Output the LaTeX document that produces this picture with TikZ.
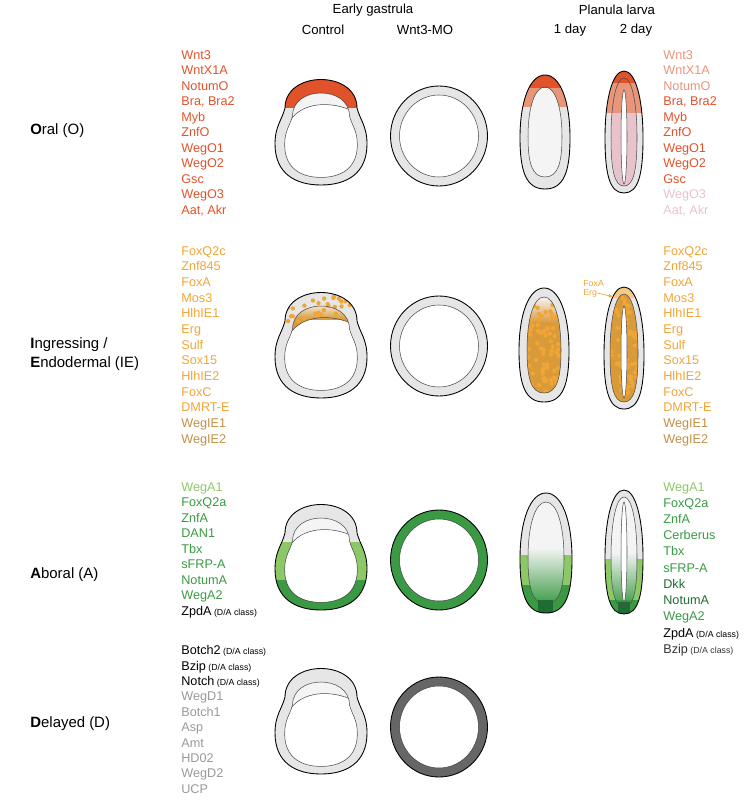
\documentclass[tikz,border=0pt]{standalone}
\usepackage{fontspec}
\setmainfont{Liberation Sans}
\usetikzlibrary{arrows.meta}
\definecolor{oraO}{HTML}{E0522A}
\definecolor{salO}{HTML}{E8957A}
\definecolor{pinkO}{HTML}{E8C3CB}
\definecolor{oraIE}{HTML}{F0A535}
\definecolor{fillIE}{HTML}{D99A3A}
\definecolor{brIE}{HTML}{C09048}
\definecolor{grL}{HTML}{8CC866}
\definecolor{grM}{HTML}{3A9A44}
\definecolor{grD}{HTML}{1E6E34}
\definecolor{ring}{HTML}{E6E6E6}
\definecolor{arch}{HTML}{F4F4F4}
\definecolor{grayD}{HTML}{999999}
\tikzset{
  egg/.style 2 args={insert path={(0,-#2) .. controls ({0.6*#1},-#2) and (#1,{-0.55*#2}) .. (#1,{0.1*#2}) .. controls (#1,{0.7*#2}) and ({0.75*#1},#2) .. (0,#2) .. controls ({-0.75*#1},#2) and (-#1,{0.7*#2}) .. (-#1,{0.1*#2}) .. controls (-#1,{-0.55*#2}) and ({-0.6*#1},-#2) .. (0,-#2) -- cycle}},
  gast/.style n args={3}{insert path={({-36*#1},{-24*#2+#3}) .. controls ({-36*#1},{-62*#2+#3}) and ({36*#1},{-62*#2+#3}) .. ({36*#1},{-24*#2+#3}) .. controls ({39*#1},{-12*#2+#3}) and ({46*#1},{-6*#2+#3}) .. ({46*#1},{12*#2+#3}) .. controls ({46*#1},{42*#2+#3}) and ({25*#1},{53*#2+#3}) .. (0,{53*#2+#3}) .. controls ({-25*#1},{53*#2+#3}) and ({-46*#1},{42*#2+#3}) .. ({-46*#1},{12*#2+#3}) .. controls ({-46*#1},{-6*#2+#3}) and ({-39*#1},{-12*#2+#3}) .. ({-36*#1},{-24*#2+#3}) -- cycle}},
  gene/.style={anchor=west,inner sep=0pt,text height=1.45ex,text depth=0.35ex,font=\fontsize{7.2}{8}\selectfont},
  head/.style={inner sep=0pt,font=\fontsize{7.5}{9}\selectfont},
  rowlab/.style={anchor=west,inner sep=0pt,font=\fontsize{8.5}{10}\selectfont},
  outl/.style={draw=black,line width=0.5pt},
  thin/.style={draw=black!70,line width=0.3pt}
}
% small class tag
\newcommand{\cls}{{\fontsize{5}{6}\selectfont\ (D/A class)}}
% gastrula pieces
\newcommand{\gastbase}{%
  \fill[ring,even odd rule] [gast={1}{1}{0}] [gast={0.79}{0.8}{3}];
  \fill[white] [gast={0.79}{0.8}{3}];
  \begin{scope}
    \clip [gast={0.79}{0.8}{3}];
    \fill[arch] (-50,-10) -- (-32,-10) .. controls (-20,-30) and (10,-32) .. (34,-20) -- (50,-20) -- (50,-70) -- (-50,-70) -- cycle;
  \end{scope}}
\newcommand{\gastlines}{%
  \draw[outl] [gast={1}{1}{0}];
  \draw[thin] [gast={0.79}{0.8}{3}];
  \begin{scope}
    \clip [gast={0.79}{0.8}{3}];
    \draw[thin] (-32,-10) .. controls (-20,-30) and (10,-32) .. (34,-20);
  \end{scope}}
\begin{document}
\begin{tikzpicture}[x=0.02cm,y=-0.02cm]
\useasboundingbox (0,0) rectangle (754,800);

% headers
\node[head] (hEG) at (373,10) {Early gastrula};
\node[head] (hCt) at (323,30) {Control};
\node[head] (hMO) at (425,30) {Wnt3-MO};
\node[head] (hPL) at (617,10) {Planula larva};
\node[head] (h1d) at (570,30) {1 day};
\node[head] (h2d) at (636,30) {2 day};

% row labels
\node[rowlab] (rO) at (30,131) {\textbf{O}ral (O)};
\node[rowlab] (rI1) at (30,345) {\textbf{I}ngressing /};
\node[rowlab] (rI2) at (30,364) {\textbf{E}ndodermal (IE)};
\node[rowlab] (rA) at (30,575) {\textbf{A}boral (A)};
\node[rowlab] (rD) at (30,724) {\textbf{D}elayed (D)};

% gene lists, oral
\foreach \g [count=\i from 0] in {Wnt3,WntX1A,NotumO,{Bra, Bra2},Myb,ZnfO,WegO1,WegO2,Gsc,WegO3,{Aat, Akr}}
  \node[gene,text=oraO] (gOl\i) at (181,54+15.5*\i) {\g};
\foreach \g/\c [count=\i from 0] in {Wnt3/salO,WntX1A/salO,NotumO/salO,{Bra, Bra2}/oraO,Myb/oraO,ZnfO/oraO,WegO1/oraO,WegO2/oraO,Gsc/oraO,WegO3/pinkO,{Aat, Akr}/pinkO}
  \node[gene,text=\c] (gOr\i) at (663,54+15.5*\i) {\g};
% ingressing / endodermal
\foreach \g/\c [count=\i from 0] in {FoxQ2c/oraIE,Znf845/oraIE,FoxA/oraIE,Mos3/oraIE,HlhIE1/oraIE,Erg/oraIE,Sulf/oraIE,Sox15/oraIE,HlhIE2/oraIE,FoxC/oraIE,DMRT-E/oraIE,WegIE1/brIE,WegIE2/brIE}{
  \node[gene,text=\c] (gIl\i) at (181,250+15.67*\i) {\g};
  \node[gene,text=\c] (gIr\i) at (663,250+15.67*\i) {\g};}
% aboral
\foreach \g/\c [count=\i from 0] in {WegA1/grL,FoxQ2a/grM,ZnfA/grM,DAN1/grM,Tbx/grM,sFRP-A/grM,NotumA/grM,WegA2/grM}
  \node[gene,text=\c] (gAl\i) at (181,486+15.5*\i) {\g};
\node[gene] (gAl8) at (181,610) {ZpdA\cls};
\foreach \g/\c [count=\i from 0] in {WegA1/grL,FoxQ2a/grM,ZnfA/grM,Cerberus/grM,Tbx/grM,sFRP-A/grM,Dkk/grD,NotumA/grD,WegA2/grM}
  \node[gene,text=\c] (gAr\i) at (663,486+16.2*\i) {\g};
\node[gene] (gAr9) at (663,632) {ZpdA\cls};
\node[gene,text=black!80] (gAr10) at (663,648.5) {Bzip\cls};
% delayed
\node[gene] (gD0) at (181,649.5) {Botch2\cls};
\node[gene] (gD1) at (181,664.9) {Bzip\cls};
\node[gene] (gD2) at (181,680.3) {Notch\cls};
\foreach \g [count=\i from 3] in {WegD1,Botch1,Asp,Amt,HD02,WegD2,UCP}
  \node[gene,text=grayD] (gD\i) at (181,649.5+15.4*\i) {\g};

% ---- control gastrulae
\begin{scope}[shift={(321,132)}]
  \gastbase
  \begin{scope}
    \clip (-60,-70) rectangle (60,-24);
    \fill[oraO,even odd rule] [gast={1}{1}{0}] [gast={0.79}{0.8}{3}];
  \end{scope}
  \gastlines
\end{scope}
\begin{scope}[shift={(321,345)}]
  \gastbase
  \begin{scope}
    \clip [gast={0.79}{0.8}{3}];
    \fill[fillIE] (-50,-10) -- (-32,-10) .. controls (-20,-30) and (10,-32) .. (34,-20) -- (50,-20) -- (50,-70) -- (-50,-70) -- cycle;
    \shade[top color=arch,bottom color=fillIE] (-50,-42) rectangle (50,-26);
  \end{scope}
  \begin{scope}
    \clip (-36,-24) .. controls (-36,-62) and (36,-62) .. (36,-24) -- (34,-20) .. controls (10,-32) and (-20,-30) .. (-32,-10) -- cycle;
    \pgfmathsetseed{7}
    \foreach \i in {1,...,45}
      \fill[oraIE] ({35*rand},{-30+20*rand}) circle (2.2);
  \end{scope}
  \gastlines
\end{scope}
\begin{scope}[shift={(321,557)}]
  \gastbase
  \begin{scope}
    \clip (-60,-15) rectangle (60,70);
    \fill[grL,even odd rule] [gast={1}{1}{0}] [gast={0.79}{0.8}{3}];
    \clip (-60,23) rectangle (60,70);
    \fill[grM,even odd rule] [gast={1}{1}{0}] [gast={0.79}{0.8}{3}];
  \end{scope}
  \gastlines
\end{scope}
\begin{scope}[shift={(321,721)}]
  \gastbase
  \gastlines
\end{scope}

% ---- Wnt3-MO
\foreach \cy/\cc in {136/ring,346/ring,560/grM,727/black!60}{
  \begin{scope}[shift={(439,\cy)}]
    \fill[\cc,even odd rule] (0,0) ellipse [x radius=48.5,y radius=50] (0,0) ellipse [x radius=39.5,y radius=41];
    \draw[outl] (0,0) ellipse [x radius=48.5,y radius=50];
    \draw[thin] (0,0) ellipse [x radius=39.5,y radius=41];
  \end{scope}}

% ---- 1 day, oral
\begin{scope}[shift={(545,132)}]
  \fill[ring] [egg={25}{57}];
  \fill[arch] [egg={17}{45}];
  \begin{scope}
    \clip (-40,-44) rectangle (40,-25);
    \fill[salO,even odd rule] [egg={25}{57}] [egg={17}{45}];
  \end{scope}
  \begin{scope}
    \clip (-40,-70) rectangle (40,-44);
    \fill[oraO] [egg={25}{57}];
  \end{scope}
  \draw[outl] [egg={25}{57}];
  \draw[thin] [egg={17}{45}];
\end{scope}
% ---- 1 day, ingressing
\begin{scope}[shift={(544,345)}]
  \fill[ring] [egg={25}{57}];
  \begin{scope}
    \clip [egg={17}{48}];
    \fill[fillIE] (-30,-60) rectangle (30,60);
    \shade[top color=arch,bottom color=fillIE] (-30,-48) rectangle (30,-22);
    \pgfmathsetseed{3}
    \foreach \i in {1,...,70}
      \fill[oraIE] ({16*rand},{4+44*rand}) circle (2.2);
  \end{scope}
  \draw[outl] [egg={25}{57}];
  \draw[thin] [egg={17}{48}];
\end{scope}
% ---- 1 day, aboral
\begin{scope}[shift={(546,553)}]
  \fill[ring] [egg={26}{60}];
  \begin{scope}
    \clip [egg={18}{51}];
    \fill[arch] (-30,-60) rectangle (30,60);
    \shade[top color=arch,bottom color=grM] (-30,-5) rectangle (30,52);
  \end{scope}
  \begin{scope}
    \clip (-40,2) rectangle (40,70);
    \fill[grL,even odd rule] [egg={26}{60}] [egg={18}{51}];
    \clip (-40,32) rectangle (40,70);
    \fill[grM,even odd rule] [egg={26}{60}] [egg={18}{51}];
  \end{scope}
  \begin{scope}
    \clip [egg={26}{60}];
    \fill[grD] (-8,47) rectangle (7,62);
  \end{scope}
  \draw[outl] [egg={26}{60}];
  \draw[thin] [egg={18}{51}];
\end{scope}

% ---- 2 day, oral
\begin{scope}[shift={(624,132)}]
  \fill[ring] [egg={19}{61}];
  \fill[pinkO] [egg={13}{54}];
  \begin{scope}
    \clip (-30,-49) rectangle (30,-19);
    \fill[salO] [egg={19}{61}];
  \end{scope}
  \begin{scope}
    \clip (-30,-70) rectangle (30,-49);
    \fill[oraO] [egg={19}{61}];
  \end{scope}
  \draw[outl] [egg={19}{61}];
  \draw[thin] [egg={13}{54}];
  \draw[thin,fill=white] (0,5) ellipse [x radius=3,y radius=47];
\end{scope}
% ---- 2 day, ingressing
\begin{scope}[shift={(624,348)}]
  \fill[ring] [egg={20}{61}];
  \begin{scope}
    \clip (-30,-70) rectangle (30,-51);
    \fill[oraIE!60] [egg={20}{61}];
  \end{scope}
  \begin{scope}
    \clip [egg={14}{54}];
    \fill[fillIE] (-30,-60) rectangle (30,60);
    \pgfmathsetseed{11}
    \foreach \i in {1,...,70}
      \fill[oraIE] ({13*rand},{2+52*rand}) circle (2.1);
  \end{scope}
  \draw[outl] [egg={20}{61}];
  \draw[thin] [egg={14}{54}];
  \draw[thin,fill=white] (0,4) ellipse [x radius=3,y radius=46];
\end{scope}
\node[inner sep=0pt,anchor=west,text=oraIE,font=\fontsize{5}{6}\selectfont] (tFoxA) at (583,284) {FoxA};
\node[inner sep=0pt,anchor=west,text=oraIE,font=\fontsize{5}{6}\selectfont] (tErg) at (583,293) {Erg};
\coordinate (pTip) at (614,297);
\draw[oraIE,line width=0.4pt,-{Latex[length=3pt,width=2pt]}] (tErg.east) -- (pTip);
% ---- 2 day, aboral
\begin{scope}[shift={(624,552)}]
  \fill[ring] [egg={19}{62}];
  \begin{scope}
    \clip [egg={13}{55}];
    \fill[arch] (-30,-60) rectangle (30,60);
    \shade[top color=arch,bottom color=grM] (-30,0) rectangle (30,55);
  \end{scope}
  \begin{scope}
    \clip (-40,7) rectangle (40,70);
    \fill[grL,even odd rule] [egg={19}{62}] [egg={13}{55}];
    \clip (-40,48) rectangle (40,70);
    \fill[grM] [egg={19}{62}];
  \end{scope}
  \begin{scope}
    \clip [egg={19}{62}];
    \fill[grD] (-6,50) rectangle (6,64);
  \end{scope}
  \draw[outl] [egg={19}{62}];
  \draw[thin] [egg={13}{55}];
  \draw[thin,fill=white] (0,0) ellipse [x radius=3,y radius=50];
\end{scope}
\end{tikzpicture}
\end{document}
